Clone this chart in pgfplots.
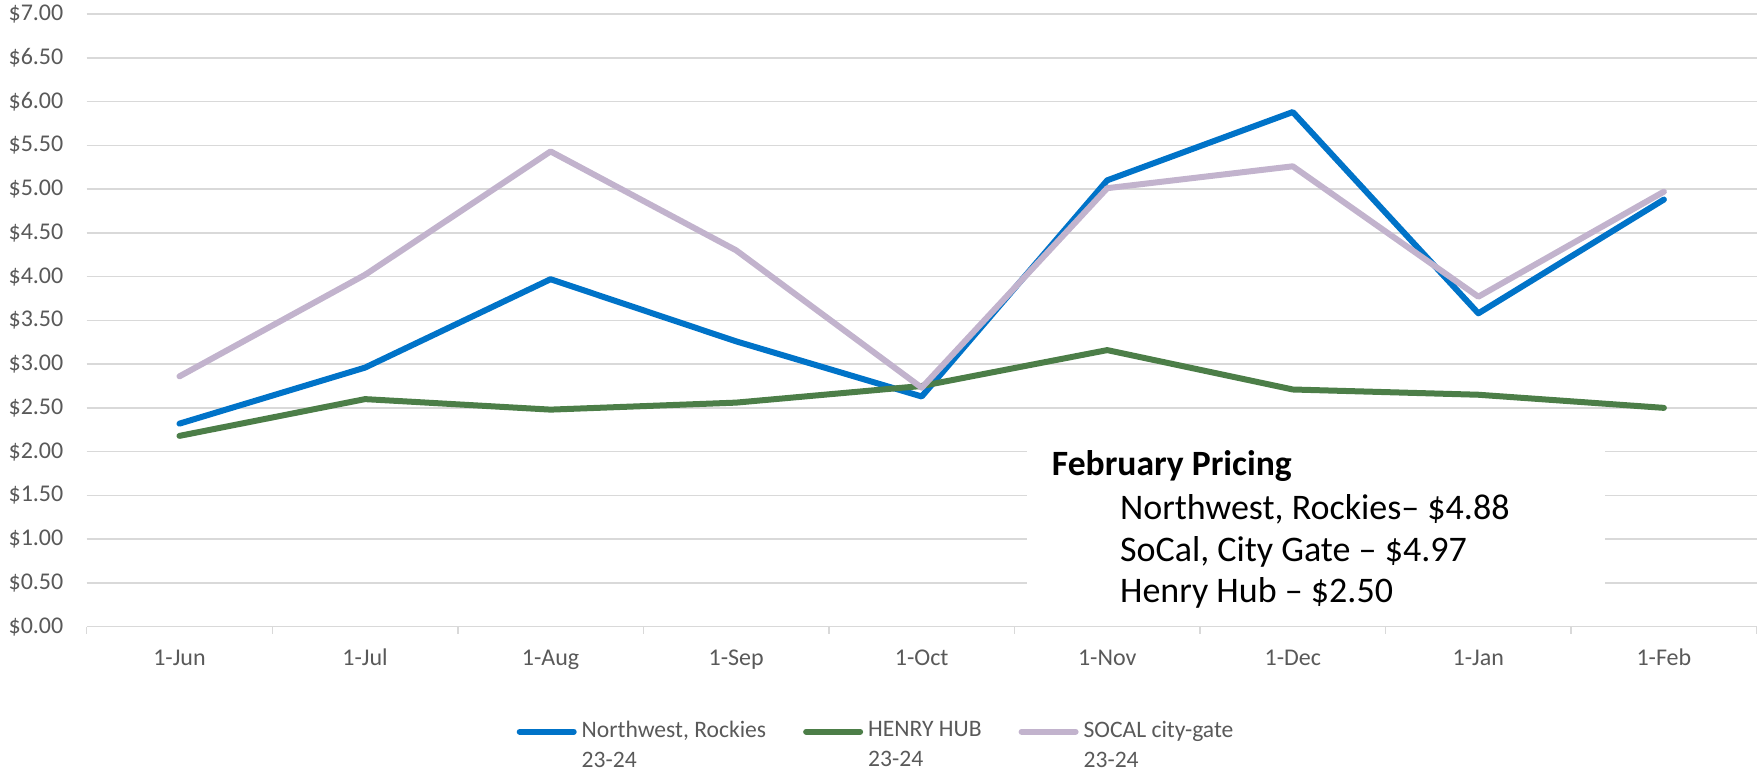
\documentclass[border=0pt]{standalone}
\usepackage{pgfplots}
\pgfplotsset{compat=1.18}
\usepackage{fontspec}
\setmainfont{Carlito}
\definecolor{nwblue}{RGB}{0,115,200}
\definecolor{hhgreen}{RGB}{76,126,72}
\definecolor{socal}{RGB}{194,179,205}
\definecolor{gridgray}{RGB}{217,217,217}
\definecolor{tickgray}{RGB}{89,89,89}
\begin{document}
\begin{tikzpicture}
\useasboundingbox (-43.35pt,-71.65pt) rectangle (835.65pt,313.35pt);
\begin{axis}[
  at={(0pt,0pt)}, anchor=south west,
  scale only axis, width=835pt, height=306.35pt,
  xmin=-0.5, xmax=8.5, ymin=0, ymax=7,
  axis line style={draw=none},
  xtick={0,1,2,3,4,5,6,7,8},
  xticklabels={1-Jun,1-Jul,1-Aug,1-Sep,1-Oct,1-Nov,1-Dec,1-Jan,1-Feb},
  minor xtick={-0.5,0.5,...,8.5},
  major tick length=0pt, minor tick length=3.5pt,
  xtick align=outside, xtick pos=left,
  x tick style={gridgray, line width=0.75pt},
  y tick style={draw=none},
  ytick={0,0.5,...,7},
  yticklabels={\$0.00,\$0.50,\$1.00,\$1.50,\$2.00,\$2.50,\$3.00,\$3.50,\$4.00,\$4.50,\$5.00,\$5.50,\$6.00,\$6.50,\$7.00},
  ymajorgrids, major grid style={gridgray, line width=0.75pt},
  tick label style={font=\fontsize{12}{14}\selectfont, text=tickgray, inner sep=0pt},
  xticklabel style={anchor=base, yshift=-19.5pt},
  yticklabel style={anchor=east, xshift=-11.5pt},
  legend style={at={(axis description cs:0.2575,-0.154)}, anchor=north west, draw=none, fill=none,
    inner sep=0pt, outer sep=0pt, font=\fontsize{11.8}{15}\selectfont, text=tickgray,
    nodes={align=left, inner xsep=2.5pt, inner ysep=0pt},
    /tikz/every even column/.append style={column sep=16pt}},
  legend columns=3,
  legend cell align=left,
  legend image code/.code={\draw[#1, line cap=round] (0pt,7pt) -- (27pt,7pt);},
]
\addplot[nwblue, line width=3pt, line join=round, line cap=round] coordinates {
(0,2.32) (1,2.96) (2,3.97) (3,3.26) (4,2.63) (5,5.10) (6,5.88) (7,3.58) (8,4.88)};
\addlegendentry{Northwest, Rockies\\23-24}
\addplot[hhgreen, line width=3pt, line join=round, line cap=round] coordinates {
(0,2.18) (1,2.60) (2,2.48) (3,2.56) (4,2.75) (5,3.16) (6,2.71) (7,2.65) (8,2.50)};
\addlegendentry{HENRY HUB\\23-24}
\addplot[socal, line width=3pt, line join=round, line cap=round] coordinates {
(0,2.86) (1,4.02) (2,5.43) (3,4.30) (4,2.73) (5,5.01) (6,5.26) (7,3.77) (8,4.97)};
\addlegendentry{SOCAL city-gate\\23-24}
\fill[white] (axis cs:4.57,0.12) rectangle (axis cs:7.68,2.12);
\node[anchor=base west, inner sep=0pt, font=\bfseries\fontsize{17.8}{21}\selectfont] at (axis cs:4.70,1.733) {February Pricing};
\node[anchor=base west, inner sep=0pt, font=\fontsize{18}{21}\selectfont] at (axis cs:5.067,1.227) {Northwest, Rockies– \$4.88};
\node[anchor=base west, inner sep=0pt, font=\fontsize{18}{21}\selectfont] at (axis cs:5.067,0.75) {SoCal, City Gate – \$4.97};
\node[anchor=base west, inner sep=0pt, font=\fontsize{18}{21}\selectfont] at (axis cs:5.067,0.274) {Henry Hub – \$2.50};
\end{axis}
\end{tikzpicture}
\end{document}
